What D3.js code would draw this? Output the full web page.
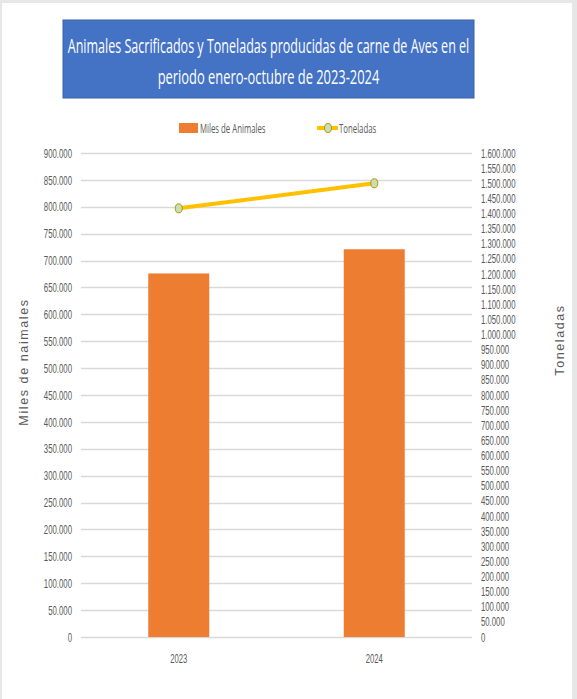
<!DOCTYPE html>
<html><head><meta charset="utf-8">
<script src="https://cdn.jsdelivr.net/npm/d3@7"></script>
<style>
html,body{margin:0;padding:0;background:#e7e7e7;}
svg{display:block;}
</style></head>
<body>
<script>
const categories = ["2023", "2024"];
const animales = [676000, 721000];
const toneladas = [1417000, 1500000];
const leftTicks = d3.range(0, 900001, 50000);
const rightTicks = d3.range(0, 1600001, 50000);
const titleLines = ["Animales Sacrificados y Toneladas producidas de carne de Aves en el", "periodo enero-octubre  de 2023-2024"];
const seriesNames = ["Miles de Animales", "Toneladas"];
const leftTitle = "Miles de naimales";
const rightTitle = "Toneladas";

const W = 577, H = 699;
const font = "'Open Sans', 'Liberation Sans', sans-serif";
const tickFont = "'Liberation Sans', Arial, sans-serif";
const loc = d3.formatLocale({decimal: ",", thousands: ".", grouping: [3], currency: ["", ""]});
const fmt = loc.format(",d");

// compress text horizontally (reference uses a condensed face)
function condense(sel, s) {
  sel.each(function() {
    const w = this.getComputedTextLength();
    d3.select(this).attr("textLength", w * s).attr("lengthAdjust", "spacingAndGlyphs");
  });
}

const svg = d3.select("body").append("svg").attr("width", W).attr("height", H);
svg.append("rect").attr("x", 0).attr("y", 0).attr("width", W).attr("height", H).attr("fill", "#e7e7e7");
svg.append("rect").attr("x", 2).attr("y", 3).attr("width", 570).attr("height", H - 3).attr("fill", "#ffffff");

const x0 = 81, x1 = 472, yTop = 153, yBot = 637;
const x = d3.scaleBand().domain(categories).range([x0, x1]).padding(0);
const yL = d3.scaleLinear().domain([0, 900000]).range([yBot, yTop]);
const yR = d3.scaleLinear().domain([0, 1600000]).range([yBot, yTop]);

// Title box
svg.append("rect").attr("x", 63).attr("y", 20).attr("width", 411).attr("height", 78)
  .attr("fill", "#4472C4").attr("stroke", "#3a62a8").attr("stroke-width", 1);
const tl = [{t: titleLines[0], y: 53, len: 402}, {t: titleLines[1], y: 84, len: 222}];
tl.forEach(d => {
  const g = svg.append("g").attr("transform", `translate(268.5,${d.y})`);
  const t = g.append("text").attr("x", 0).attr("y", 0).attr("text-anchor", "middle")
    .attr("font-family", font).attr("font-size", 19.5).attr("fill", "#ffffff").text(d.t);
  const w = t.node().getComputedTextLength();
  g.attr("transform", `translate(268.5,${d.y}) scale(${d.len / w},1)`);
});

// Grid (left axis)
svg.append("g").selectAll("line").data(leftTicks).join("line")
  .attr("x1", x0).attr("x2", x1).attr("y1", d => Math.round(yL(d)) + 0.5).attr("y2", d => Math.round(yL(d)) + 0.5)
  .attr("stroke", "#d9d9d9").attr("stroke-width", 1.3);

// Left axis
const axL = d3.axisLeft(yL).tickValues(leftTicks).tickFormat(fmt).tickSize(0).tickPadding(0);
const gL = svg.append("g").attr("transform", `translate(72,0)`).call(axL);
gL.select(".domain").remove();
gL.selectAll("text").attr("font-family", tickFont).attr("font-size", 13).attr("fill", "#595959");
condense(gL.selectAll("text"), 0.6);

// Right axis
const axR = d3.axisRight(yR).tickValues(rightTicks).tickFormat(fmt).tickSize(0).tickPadding(0);
const gR = svg.append("g").attr("transform", `translate(481,0)`).call(axR);
gR.select(".domain").remove();
gR.selectAll("text").attr("font-family", tickFont).attr("font-size", 12.5).attr("fill", "#595959");
condense(gR.selectAll("text"), 0.62);

// Bars
const bw = 61;
svg.append("g").selectAll("rect").data(categories).join("rect")
  .attr("x", d => x(d) + x.bandwidth() / 2 - bw / 2)
  .attr("y", (d, i) => yL(animales[i]))
  .attr("width", bw)
  .attr("height", (d, i) => yBot - yL(animales[i]))
  .attr("fill", "#ED7D31");

// Line
const pts = categories.map((c, i) => [x(c) + x.bandwidth() / 2, yR(toneladas[i])]);
svg.append("path").attr("d", d3.line()(pts)).attr("fill", "none")
  .attr("stroke", "#FFC000").attr("stroke-width", 4).attr("stroke-linecap", "round");
svg.append("g").selectAll("ellipse").data(pts).join("ellipse")
  .attr("cx", d => d[0]).attr("cy", d => d[1]).attr("rx", 3.5).attr("ry", 4.5)
  .attr("fill", "#C5E0B4").attr("stroke", "#BF9000").attr("stroke-width", 1);

// Category labels
const axB = d3.axisBottom(x).tickSize(0).tickPadding(0);
const gB = svg.append("g").attr("transform", `translate(0,654)`).call(axB);
gB.select(".domain").remove();
gB.selectAll("text").attr("font-family", tickFont).attr("font-size", 13).attr("fill", "#595959");
condense(gB.selectAll("text"), 0.59);

// Legend
const lg = svg.append("g");
lg.append("rect").attr("x", 179).attr("y", 123).attr("width", 19).attr("height", 10).attr("fill", "#ED7D31");
const lt1 = lg.append("text").attr("x", 200).attr("y", 132.5).attr("font-family", font).attr("font-size", 13)
  .attr("fill", "#595959").text(seriesNames[0]);
lg.append("line").attr("x1", 317).attr("x2", 338).attr("y1", 128).attr("y2", 128)
  .attr("stroke", "#FFC000").attr("stroke-width", 4);
lg.append("ellipse").attr("cx", 328).attr("cy", 128).attr("rx", 3.5).attr("ry", 4.5)
  .attr("fill", "#C5E0B4").attr("stroke", "#BF9000").attr("stroke-width", 1);
const lt2 = lg.append("text").attr("x", 339).attr("y", 132.5).attr("font-family", font).attr("font-size", 13)
  .attr("fill", "#595959").text(seriesNames[1]);
condense(lt1, 0.6);
condense(lt2, 0.6);

// Axis titles
svg.append("text").attr("transform", "translate(28,362) rotate(-90)").attr("text-anchor", "middle")
  .attr("font-family", "'Liberation Sans', Arial, sans-serif").attr("font-size", 12.5).attr("fill", "#595959")
  .attr("letter-spacing", 1.6).text(leftTitle);
svg.append("text").attr("transform", "translate(564,340) rotate(-90)").attr("text-anchor", "middle")
  .attr("font-family", "'Liberation Sans', Arial, sans-serif").attr("font-size", 12.5).attr("fill", "#595959")
  .attr("letter-spacing", 1.6).text(rightTitle);
</script>
</body></html>
